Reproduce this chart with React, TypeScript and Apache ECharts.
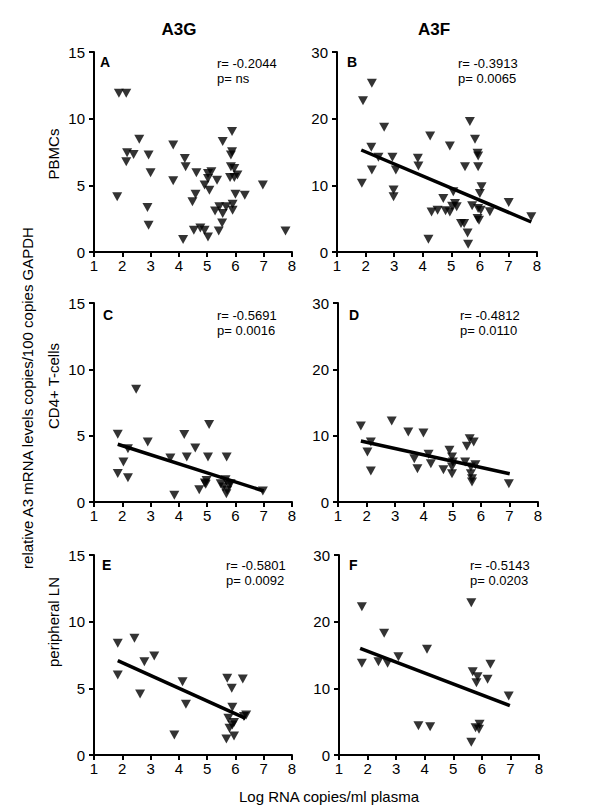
import React, { useEffect, useRef } from "react";
import * as echarts from "echarts";

// ---------- data ----------
const xTicks = [1, 2, 3, 4, 5, 6, 7, 8];
const columnTitles = ["A3G", "A3F"];
const rowLabels = ["PBMCs", "CD4+ T-cells", "peripheral LN"];
const panelLetters = ["A", "B", "C", "D", "E", "F"];
const rValues = ["r= -0.2044", "r= -0.3913", "r= -0.5691", "r= -0.4812", "r= -0.5801", "r= -0.5143"];
const pValues = ["p= ns", "p= 0.0065", "p= 0.0016", "p= 0.0110", "p= 0.0092", "p= 0.0203"];
const yMaxes = [15, 30, 15, 30, 15, 30];
const yIntervals = [5, 10, 5, 10, 5, 10];

const aX = [1.88, 2.14, 1.82, 2.17, 2.14, 2.4, 2.6, 2.93, 3.0, 2.89, 2.93, 3.8, 3.8, 4.21, 4.24, 4.15, 4.62, 4.59, 4.48, 4.53, 4.76, 4.91, 5.03, 4.91, 5.03, 5.03, 5.15, 5.08, 5.35, 5.28, 5.43, 5.55, 5.53, 5.41, 5.67, 5.55, 5.88, 5.88, 5.84, 5.84, 5.96, 5.81, 5.96, 6.07, 5.9, 5.9, 6.0, 6.33, 6.97, 7.77];
const aY = [11.9, 11.9, 4.14, 7.45, 6.77, 7.32, 8.45, 7.27, 5.94, 3.34, 2.0, 8.03, 5.34, 7.02, 6.4, 0.93, 5.94, 4.34, 3.76, 1.63, 1.8, 1.63, 1.13, 5.02, 5.89, 5.52, 6.02, 4.64, 5.39, 3.08, 3.39, 2.88, 2.18, 1.58, 3.39, 8.28, 9.03, 7.52, 7.27, 6.4, 6.27, 5.59, 5.59, 5.77, 3.59, 3.14, 4.34, 4.26, 5.02, 1.58];

const bX = [1.91, 2.22, 1.87, 2.2, 2.22, 2.45, 2.65, 2.94, 3.06, 2.98, 2.98, 3.83, 3.85, 4.26, 4.2, 4.31, 4.52, 4.72, 4.8, 4.95, 4.95, 5.07, 5.13, 5.19, 5.03, 5.34, 5.45, 5.48, 5.57, 5.59, 5.65, 5.73, 5.83, 5.92, 5.94, 5.94, 5.94, 5.92, 5.97, 6.06, 6.0, 6.03, 6.35, 7.01, 7.8];
const bY = [22.7, 25.3, 10.3, 15.7, 12.3, 14.2, 18.7, 14.2, 12.3, 9.3, 8.3, 14.05, 12.9, 17.4, 1.9, 6.0, 6.27, 8.03, 6.17, 6.0, 15.9, 9.03, 7.27, 6.77, 6.87, 4.26, 4.26, 12.8, 2.86, 1.15, 19.57, 6.92, 16.9, 14.8, 14.4, 12.8, 6.52, 5.02, 4.77, 9.78, 8.78, 6.27, 6.02, 7.43, 5.27];

const cX = [1.84, 1.84, 2.04, 2.2, 2.2, 2.49, 2.9, 3.7, 3.84, 4.19, 4.28, 4.58, 4.72, 4.92, 4.98, 5.03, 5.07, 4.95, 5.48, 5.57, 5.65, 5.69, 5.71, 5.77, 5.83, 5.68, 6.97];
const cY = [5.1, 2.14, 3.02, 4.02, 1.83, 8.49, 4.52, 3.32, 0.5, 5.08, 3.39, 4.07, 0.93, 1.43, 1.63, 3.39, 5.85, 1.33, 1.38, 1.13, 1.68, 3.39, 0.88, 1.26, 1.38, 0.63, 0.83];

const dX = [1.8, 2.03, 2.15, 2.15, 2.88, 3.46, 3.67, 3.78, 3.99, 4.17, 4.25, 4.69, 4.9, 4.99, 4.99, 4.99, 5.02, 5.45, 5.51, 5.61, 5.75, 5.65, 5.65, 5.69, 5.69, 5.81, 6.98];
const dY = [11.46, 7.54, 9.05, 4.67, 12.2, 10.55, 6.53, 5.03, 10.4, 7.19, 5.78, 4.87, 7.79, 6.78, 5.28, 4.27, 6.03, 6.03, 8.39, 9.55, 9.05, 5.28, 4.27, 3.52, 3.02, 5.63, 2.76];

const eX = [1.84, 1.84, 2.43, 2.63, 2.78, 3.13, 3.84, 4.13, 4.25, 5.71, 5.87, 6.26, 5.75, 5.89, 5.89, 5.95, 5.79, 5.95, 5.68, 6.38, 6.3];
const eY = [8.38, 6.0, 8.75, 4.58, 7.0, 7.43, 1.5, 5.5, 3.8, 5.75, 5.0, 5.7, 2.75, 3.58, 2.25, 2.43, 2.0, 1.43, 1.2, 3.0, 2.88];

const fX = [1.8, 1.8, 2.38, 2.58, 2.7, 3.08, 4.08, 3.78, 4.19, 5.63, 5.68, 5.85, 5.81, 6.2, 6.3, 6.94, 5.78, 5.92, 5.9, 5.63];
const fY = [22.25, 13.75, 14.0, 18.25, 13.75, 14.75, 15.85, 4.4, 4.25, 22.85, 12.5, 11.75, 10.85, 11.35, 13.6, 8.85, 4.1, 4.6, 3.85, 1.9];

// regression lines: [x start, x end], [y start, y end] (null = no line)
const fitX = [null, [1.85, 7.8], [1.84, 7.0], [1.8, 7.01], [1.84, 6.36], [1.74, 6.98]];
const fitY = [null, [15.3, 4.5], [4.35, 0.83], [9.2, 4.27], [7.08, 2.75], [16.0, 7.4]];

const allX = [aX, bX, cX, dX, eX, fX];
const allY = [aY, bY, cY, dY, eY, fY];

// ---------- layout ----------
const FONT = "'Liberation Sans', Arial, Helvetica, sans-serif";
const gridBoxes = [
  { left: 94, top: 52, width: 198, height: 200 },
  { left: 337, top: 52, width: 200, height: 200 },
  { left: 94, top: 303, width: 198, height: 199 },
  { left: 338, top: 303, width: 200, height: 199 },
  { left: 94, top: 555, width: 198, height: 200 },
  { left: 339, top: 555, width: 200, height: 200 },
];
const letterPos = [
  [100, 62], [347, 62], [103, 315], [349, 315], [102, 565], [349, 565],
];
const statPos = [
  [217, 63], [458, 63], [217, 315], [460, 315], [226, 565], [470, 565],
];
const rowLabelY = [154, 386, 622];

export default function App() {
  const ref = useRef<HTMLDivElement>(null);
  useEffect(() => {
    if (!ref.current) return;
    const chart = echarts.init(ref.current, null, { renderer: "svg" });

    const axisCommon = {
      axisLine: { show: true, onZero: false, lineStyle: { color: "#000", width: 2 } },
      axisTick: { show: true, length: 5, inside: false, lineStyle: { color: "#000", width: 2 } },
      splitLine: { show: false },
      axisLabel: { color: "#000", fontSize: 15, fontFamily: FONT },
    };

    const grid = gridBoxes.map((g) => ({ ...g, containLabel: false }));
    const xAxis = gridBoxes.map((_, i) => ({
      type: "value",
      gridIndex: i,
      min: xTicks[0],
      max: xTicks[xTicks.length - 1],
      interval: 1,
      ...axisCommon,
      axisLabel: { ...axisCommon.axisLabel, margin: 6 },
    }));
    const yAxis = gridBoxes.map((_, i) => ({
      type: "value",
      gridIndex: i,
      min: 0,
      max: yMaxes[i],
      interval: yIntervals[i],
      ...axisCommon,
      axisLabel: { ...axisCommon.axisLabel, margin: 9 },
    }));

    const series: any[] = [];
    allX.forEach((xs, i) => {
      series.push({
        type: "scatter",
        xAxisIndex: i,
        yAxisIndex: i,
        symbol: "triangle",
        symbolRotate: 180,
        symbolSize: [10, 9],
        itemStyle: { color: "#000" },
        data: xs.map((x, k) => [x, allY[i][k]]),
        silent: true,
      });
      const fx = fitX[i];
      const fy = fitY[i];
      if (fx && fy) {
        series.push({
          type: "line",
          xAxisIndex: i,
          yAxisIndex: i,
          showSymbol: false,
          symbol: "none",
          lineStyle: { color: "#000", width: 3.5 },
          data: fx.map((x, k) => [x, fy[k]]),
          silent: true,
          z: 3,
        });
      }
    });

    const graphic: any[] = [];
    // column titles
    columnTitles.forEach((t, i) => {
      graphic.push({
        type: "text",
        x: i === 0 ? 179 : 434,
        y: 29,
        style: { text: t, fontSize: 17, fontWeight: "bold", fontFamily: FONT, fill: "#000", align: "center", verticalAlign: "middle" },
      });
    });
    // row labels
    rowLabels.forEach((t, i) => {
      graphic.push({
        type: "text",
        x: 53,
        y: rowLabelY[i],
        rotation: Math.PI / 2,
        style: { text: t, fontSize: 15, fontFamily: FONT, fill: "#000", align: "center", verticalAlign: "middle" },
      });
    });
    // outer y label
    graphic.push({
      type: "text",
      x: 27,
      y: 398,
      rotation: Math.PI / 2,
      style: { text: "relative A3 mRNA levels copies/100 copies GAPDH", fontSize: 15, fontFamily: FONT, fill: "#000", align: "center", verticalAlign: "middle" },
    });
    // x label
    graphic.push({
      type: "text",
      x: 329,
      y: 796,
      style: { text: "Log RNA copies/ml plasma", fontSize: 15, fontFamily: FONT, fill: "#000", align: "center", verticalAlign: "middle" },
    });
    // panel letters and stats
    panelLetters.forEach((t, i) => {
      graphic.push({
        type: "text",
        x: letterPos[i][0],
        y: letterPos[i][1],
        style: { text: t, fontSize: 14, fontWeight: "bold", fontFamily: FONT, fill: "#000", align: "left", verticalAlign: "middle" },
      });
      graphic.push({
        type: "text",
        x: statPos[i][0],
        y: statPos[i][1],
        style: { text: rValues[i], fontSize: 13, fontFamily: FONT, fill: "#000", align: "left", verticalAlign: "middle" },
      });
      graphic.push({
        type: "text",
        x: statPos[i][0],
        y: statPos[i][1] + 15,
        style: { text: pValues[i], fontSize: 13, fontFamily: FONT, fill: "#000", align: "left", verticalAlign: "middle" },
      });
    });

    chart.setOption({
      animation: false,
      backgroundColor: "#fff",
      grid,
      xAxis,
      yAxis,
      series,
      graphic,
    });
    return () => chart.dispose();
  }, []);

  return (
    <div
      ref={ref}
      style={{ position: "absolute", left: 0, top: 0, width: 600, height: 811 }}
    />
  );
}
